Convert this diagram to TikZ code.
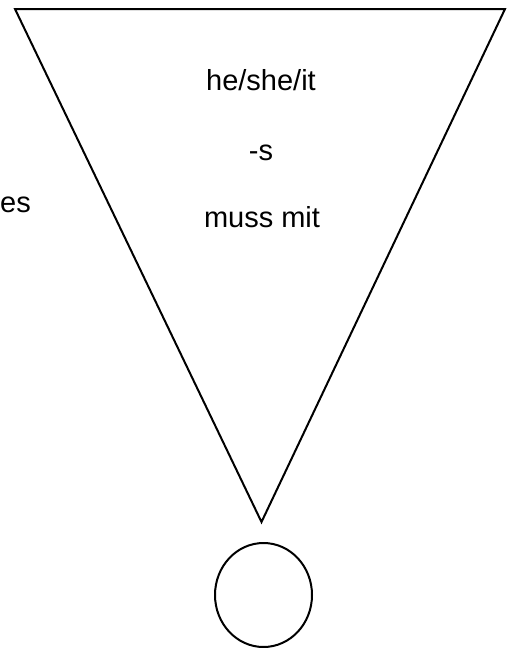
\documentclass[tikz,border=0pt]{standalone}
\usepackage{fontspec}
\setmainfont{Liberation Sans}
\begin{document}
\begin{tikzpicture}[x=1pt,y=-1pt,
  shape line/.style={draw=black,line width=2pt,line join=miter},
  lbl/.style={anchor=base,inner sep=0pt,font=\fontsize{29}{33}\selectfont}]
\useasboundingbox (0,0) rectangle (507,648);
\coordinate (tl) at (15,9);
\coordinate (tr) at (505,9);
\coordinate (bot) at (261.5,522);
\draw[shape line] (tl) -- (tr) -- (bot) -- cycle;
\draw[shape line] (263.5,595) ellipse [x radius=48.5,y radius=52];
\node[lbl] (t1) at (261,90) {he/she/it};
\node[lbl] (t2) at (261,160) {-s};
\node[lbl] (t3) at (262,227) {muss mit};
\node[lbl,anchor=base east] (t4) at (31,212) {es};
\end{tikzpicture}
\end{document}
